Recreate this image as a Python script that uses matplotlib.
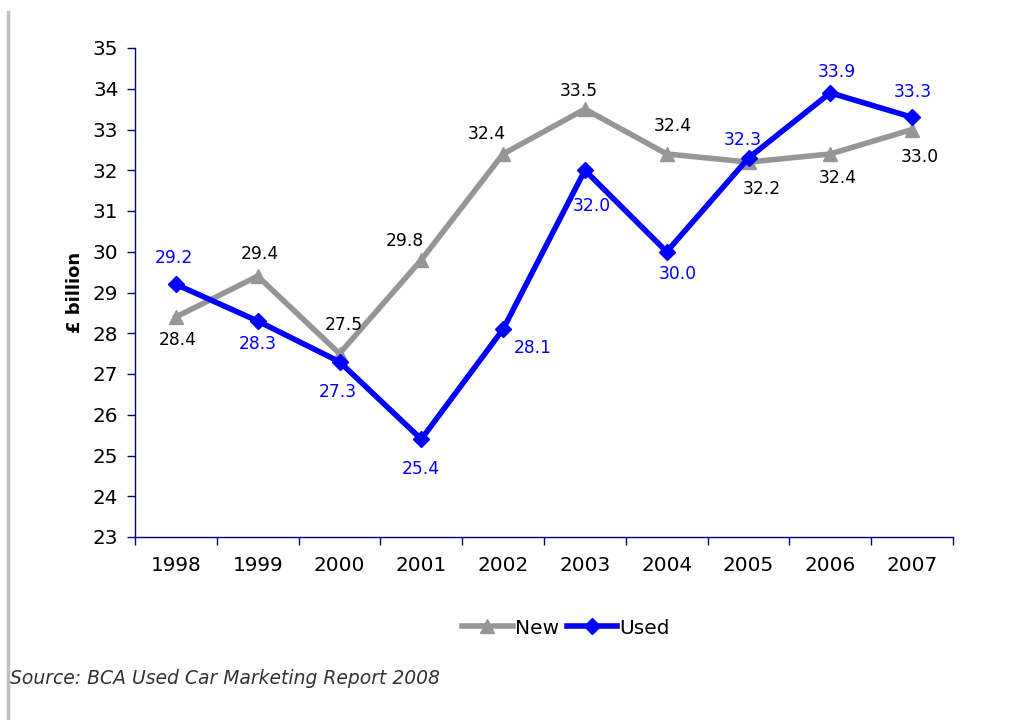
import matplotlib
matplotlib.use("Agg")
import matplotlib.pyplot as plt
from matplotlib.lines import Line2D

years = ["1998", "1999", "2000", "2001", "2002", "2003", "2004", "2005", "2006", "2007"]
new_cars = [28.4, 29.4, 27.5, 29.8, 32.4, 33.5, 32.4, 32.2, 32.4, 33.0]
used_cars = [29.2, 28.3, 27.3, 25.4, 28.1, 32.0, 30.0, 32.3, 33.9, 33.3]

# label placement per point: (dx, dy) in pixels, y upward
new_offsets = [(2, -23), (2, 22), (4, 29), (-16, 19), (-16, 20), (-6, 18), (6, 28), (13, -27), (8, -24), (8, -28)]
used_offsets = [(-2, 26), (0, -23), (-2, -30), (0, -30), (30, -19), (7, -36), (11, -22), (-6, 18), (7, 21), (1, 25)]

plt.rcParams["font.family"] = ["DejaVu Sans"]
fig = plt.figure(figsize=(10.33, 7.2), dpi=100)
ax = fig.add_axes([135 / 1033, 1 - 537 / 720, 818 / 1033, 489 / 720])

grey = "#969696"
blue = "#0000FF"
navy = "#000080"
x = list(range(len(years)))

ax.plot(x, new_cars, color=grey, lw=4, marker="^", ms=10, mec=grey, mfc=grey, zorder=2)
ax.plot(x, used_cars, color=blue, lw=4, marker="D", ms=8.5, mec=blue, mfc=blue, zorder=3)

for xi, v, off in zip(x, new_cars, new_offsets):
    ax.annotate(f"{v:.1f}", (xi, v), xytext=off, textcoords="offset pixels",
                ha="center", va="center", fontsize=12.3, color="black")
for xi, v, off in zip(x, used_cars, used_offsets):
    ax.annotate(f"{v:.1f}", (xi, v), xytext=off, textcoords="offset pixels",
                ha="center", va="center", fontsize=12.3, color=blue)

ax.set_xlim(-0.5, 9.5)
ax.set_ylim(23, 35)
ax.set_yticks(range(23, 36))
ax.set_xticks(x)
ax.set_xticklabels(years)
ax.set_xticks([i + 0.5 for i in range(-1, 10)], minor=True)
ax.tick_params(axis="x", which="major", length=0, labelsize=14.4, pad=14)
ax.tick_params(axis="x", which="minor", length=6, color=navy, width=1)
ax.tick_params(axis="y", length=6, color=navy, width=1, labelsize=14.4, pad=6)

for side in ("top", "right"):
    ax.spines[side].set_visible(False)
for side in ("left", "bottom"):
    ax.spines[side].set_color(navy)
    ax.spines[side].set_linewidth(1)

ax.set_ylabel("£ billion", fontsize=13, fontweight="bold", labelpad=6)

handles = [
    Line2D([], [], color=grey, lw=4, marker="^", ms=10, mec=grey, mfc=grey),
    Line2D([], [], color=blue, lw=4, marker="D", ms=8.5, mec=blue, mfc=blue),
]
fig.legend(handles, ["New", "Used"], loc="center", bbox_to_anchor=(566 / 1033, 1 - 628 / 720),
           ncol=2, frameon=False, fontsize=14.5, handlelength=2.5, handletextpad=0.1,
           columnspacing=0.4)

fig.text(10 / 1033, 1 - 678 / 720, "Source: BCA Used Car Marketing Report 2008",
         fontsize=13.5, style="italic", color="#333333", ha="left", va="center")

fig.add_artist(Line2D([8 / 1033, 8 / 1033], [0, 1 - 12 / 720], color="#C0C0C0", lw=2.5,
                      transform=fig.transFigure))

fig.savefig("out.png", dpi=100, facecolor="white")
